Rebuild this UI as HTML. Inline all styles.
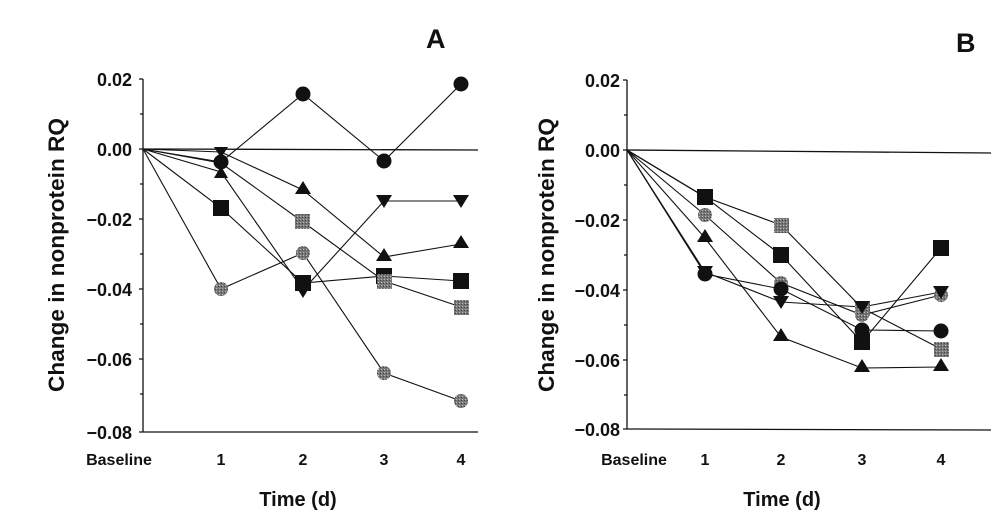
<!DOCTYPE html>
<html><head><style>body{margin:0;background:#fff}svg{display:block}text{font-family:"Liberation Sans",Arial,sans-serif;font-weight:bold;fill:#111}</style></head><body>
<svg width="991" height="524" viewBox="0 0 991 524" xmlns="http://www.w3.org/2000/svg">
<defs>
<pattern id="g" width="3" height="3" patternUnits="userSpaceOnUse"><rect width="3" height="3" fill="#777"/><rect width="1" height="1" fill="#bbb"/><rect x="2" y="1" width="1" height="1" fill="#444"/></pattern>
</defs>
<text x="426" y="48" font-size="27">A</text>
<text x="956" y="52" font-size="27">B</text>
<g stroke="#111" stroke-width="1.3" fill="none">
<line x1="143" y1="79" x2="143" y2="432"/><line x1="143" y1="432" x2="478" y2="432"/>
<line x1="143" y1="149" x2="478" y2="150"/>
<path d="M139 79h4M139 149h4M139 219h4M139 289h4M139 359h4M139 432h4M140 114h3M140 184h3M140 254h3M140 324h3M140 394h3"/>
<line x1="627" y1="80" x2="627" y2="429"/><line x1="627" y1="429" x2="991" y2="430"/>
<line x1="627" y1="150" x2="991" y2="153"/>
<path d="M623 80h4M623 150h4M623 220h4M623 290h4M623 360h4M623 429h4M624 115h3M624 185h3M624 255h3M624 325h3M624 395h3"/>
</g>
<g font-size="18" text-anchor="end">
<text x="132" y="86">0.02</text><text x="132" y="156">0.00</text><text x="132" y="226">−0.02</text><text x="132" y="296">−0.04</text><text x="132" y="366">−0.06</text><text x="132" y="439">−0.08</text>
<text x="620" y="87">0.02</text><text x="620" y="157">0.00</text><text x="620" y="227">−0.02</text><text x="620" y="297">−0.04</text><text x="620" y="367">−0.06</text><text x="620" y="436">−0.08</text>
</g>
<g font-size="16" text-anchor="middle">
<text x="119" y="465">Baseline</text><text x="221" y="465">1</text><text x="303" y="465">2</text><text x="384" y="465">3</text><text x="461" y="465">4</text>
<text x="634" y="465">Baseline</text><text x="705" y="465">1</text><text x="781" y="465">2</text><text x="862" y="465">3</text><text x="941" y="465">4</text>
<text x="298" y="506" font-size="20">Time (d)</text><text x="782" y="506" font-size="20">Time (d)</text>
<text transform="translate(64,255) rotate(-90)" font-size="22" textLength="274" lengthAdjust="spacingAndGlyphs">Change in nonprotein RQ</text>
<text transform="translate(554,255) rotate(-90)" font-size="22" textLength="274" lengthAdjust="spacingAndGlyphs">Change in nonprotein RQ</text>
</g>
<g stroke="#111" stroke-width="1.1" fill="none">
<polyline points="143,149 221,162 303,94 384,161 461,84"/>
<polyline points="143,149 221,152 303,190 384,257 461,244"/>
<polyline points="143,149 221,172 303,290 384,201 461,201"/>
<polyline points="143,149 221,163 303,222 384,281 461,307"/>
<polyline points="143,149 221,208 303,283 384,276 461,281"/>
<polyline points="143,149 221,289 303,253 384,373 461,401"/>
<polyline points="627,150 705,197 781,225 862,308 941,349"/>
<polyline points="627,150 705,197 781,255 862,342 941,248"/>
<polyline points="627,150 705,215 781,283 862,315 941,295"/>
<polyline points="627,150 705,238 781,337 862,368 941,367"/>
<polyline points="627,150 705,274 781,289 862,330 941,331"/>
<polyline points="627,150 705,272 781,302 862,307 941,292"/>
</g>
<g fill="#111">
<circle cx="303" cy="94" r="7.5"/><circle cx="384" cy="161" r="7.5"/><circle cx="461" cy="84" r="7.5"/>
<path d="M303 181l8 13h-16zM384 248l8 13h-16zM461 235l8 13h-16zM221 166l7 12h-14z"/>
<path d="M295 285h16l-8 13zM376 195h16l-8 13zM453 195h16l-8 13zM214 147h14l-7 11z"/>
<rect x="213" y="200" width="16" height="16"/><rect x="295" y="275" width="16" height="16"/><rect x="376" y="268" width="16" height="16"/><rect x="453" y="273" width="16" height="16"/>
<circle cx="221" cy="162" r="7.5"/>
</g>
<g fill="url(#g)">
<rect x="295" y="214" width="15" height="15"/><rect x="377" y="274" width="15" height="15"/><rect x="454" y="300" width="15" height="15"/>
<circle cx="221" cy="289" r="7"/><circle cx="303" cy="253" r="7"/><circle cx="384" cy="373" r="7"/><circle cx="461" cy="401" r="7"/>
</g>
<g fill="url(#g)">
<rect x="774" y="218" width="15" height="15"/><rect x="855" y="301" width="15" height="15"/><rect x="934" y="342" width="15" height="15"/>
<circle cx="705" cy="215" r="7"/><circle cx="781" cy="283" r="7"/><circle cx="862" cy="315" r="7"/><circle cx="941" cy="295" r="7"/>
</g>
<g fill="#111">
<rect x="697" y="189" width="16" height="16"/><rect x="773" y="247" width="16" height="16"/><rect x="854" y="334" width="16" height="16"/><rect x="933" y="240" width="16" height="16"/>
<path d="M705 229l8 13h-16zM781 328l8 13h-16zM862 359l8 13h-16zM941 358l8 13h-16z"/>
<circle cx="705" cy="274" r="7.5"/><circle cx="781" cy="289" r="7.5"/><circle cx="862" cy="330" r="7.5"/><circle cx="941" cy="331" r="7.5"/>
<path d="M773 296h16l-8 13zM854 301h16l-8 13zM933 286h16l-8 13zM697 266h16l-8 13z"/>
</g>
</svg>
</body></html>
